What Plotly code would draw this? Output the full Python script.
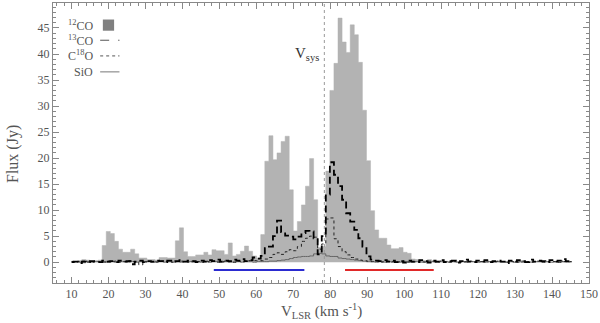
import plotly.graph_objects as go

# channel grid (km/s), 1.1 km/s channels
V_START = 10.05
DV = 1.1

CO12 = [
    0.2, 0.1, 0.3, 0.5, 0.4, 0.2, 0.3, 0.4, 3.2, 5.9,
    5.5, 4.0, 2.5, 1.9, 1.9, 2.5, 1.6, 0.8, 0.8, 0.5,
    0.5, 0.4, 0.9, 0.9, 0.8, 0.8, 4.1, 6.6, 2.0, 1.1,
    1.1, 1.4, 1.4, 1.9, 1.4, 2.4, 2.2, 2.2, 1.5, 3.7,
    1.2, 1.5, 2.1, 3.1, 2.1, 1.2, 0.8, 5.3, 19.4, 24.3,
    19.7, 21.0, 23.2, 24.2, 13.9, 6.0, 7.8, 11.0, 14.6, 19.9,
    12.0, 2.8, 3.0, 17.5, 33.0, 38.2, 46.9, 42.3, 40.3, 45.6,
    43.7, 38.4, 29.2, 19.5, 9.9, 6.2, 4.6, 4.6, 3.3, 2.6,
    2.6, 2.8, 1.9, 1.7, 0.6, 0.5, 0.4, 0.3, 0.5, 0.3,
    0.2, 0.3, 0.2, 0.1, 0.2, 0.1, 0.2, 0.1, 0.0, 0.1,
    0.1, 0.0, 0.1, 0.1, 0.0, 0.1, 0.0, 0.1, 0.0, 0.0,
    0.1, 0.0, 0.0, 0.1, 0.0, 0.0, 0.1, 0.0, 0.0, 0.0,
    0.0, 0.1, 0.0, 0.0,
]

CO13 = [
    0.0, 0.1, -0.2, 0.1, 0.0, 0.2, 0.1, 0.0, 0.3, 0.1,
    0.2, 0.0, 0.3, 0.1, 0.2, -0.4, 0.1, 0.3, 0.0, 0.2,
    0.1, 0.3, 0.2, 0.0, 0.3, 0.1, 0.2, 0.4, 0.1, 0.3,
    0.2, 0.0, 0.3, 0.1, 0.4, 0.2, 0.5, 0.1, 0.3, 0.2,
    0.5, 0.3, 0.6, 0.2, 0.4, 0.9, 0.7, 1.2, 2.7, 3.0,
    5.0, 8.0, 5.8, 5.1, 4.9, 4.4, 4.9, 5.6, 6.0, 5.9,
    4.6, 1.5, 5.0, 13.0, 19.2, 16.8, 14.6, 12.0, 9.4, 7.8,
    6.2, 4.6, 3.0, 1.1, 0.5, 0.3, 0.2, 0.4, 0.1, 0.3,
    0.0, 0.2, -0.1, 0.3, 0.1, 0.0, 0.4, 0.2, -0.1, 0.3,
    0.1, 0.4, 0.0, 0.2, 0.3, -0.1, 0.2, 0.5, 0.1, 0.0,
    0.3, 0.1, 0.4, 0.0, 0.2, 0.3, 0.1, -0.2, 0.3, 0.1,
    0.4, 0.2, 0.0, 0.5, 0.1, 0.3, 0.2, 0.0, 0.4, 0.1,
    0.3, 0.6, 0.2, 0.1,
]

C18O = [
    0.1, 0.0, 0.1, 0.2, 0.0, 0.1, 0.2, 0.1, 0.0, 0.2,
    0.1, 0.2, 0.0, 0.1, 0.3, 0.1, 0.0, -0.5, 0.1, 0.2,
    0.1, 0.0, 0.2, 0.1, 0.2, 0.0, 0.1, 0.2, 0.1, 0.0,
    0.2, 0.1, 0.0, 0.2, 0.1, 0.2, 0.0, 0.1, 0.2, 0.1,
    0.0, 0.2, 0.1, 0.2, 0.3, 0.3, 0.3, 0.3, 0.6, 0.9,
    1.5, 1.8, 1.5, 2.0, 2.4, 2.2, 3.0, 4.0, 4.6, 5.0,
    4.8, 2.5, 3.5, 8.3, 8.5, 4.5, 3.0, 2.0, 1.4, 0.9,
    0.6, 0.4, 0.3, 0.2, 0.1, 0.2, 0.0, 0.1, 0.2, 0.1,
    0.0, 0.1, 0.2, 0.0, 0.1, 0.2, 0.1, 0.0, 0.2, 0.1,
    0.0, 0.2, 0.1, 0.0, 0.1, 0.2, 0.0, 0.1, 0.2, 0.1,
    0.0, 0.1, 0.2, 0.0, 0.1, 0.2, 0.1, 0.0, 0.2, 0.1,
    0.0, 0.2, 0.1, 0.0, 0.1, 0.2, 0.0, 0.1, 0.2, 0.1,
    0.0, 0.1, 0.2, 0.1,
]

SIO = [
    0.0, 0.1, 0.0, -0.1, 0.1, 0.0, 0.1, 0.0, 0.1, 0.0,
    0.1, 0.0, 0.1, 0.1, 0.0, 0.1, 0.0, 0.1, 0.0, 0.1,
    0.0, 0.1, 0.1, 0.0, 0.1, 0.0, 0.1, 0.0, 0.1, 0.1,
    0.0, 0.1, 0.0, 0.1, 0.0, 0.1, 0.1, 0.0, 0.1, 0.0,
    0.0, 0.1, 0.0, 0.1, 0.1, 0.0, 0.1, 0.1, 0.1, 0.2,
    0.2, 0.3, 0.4, 0.5, 0.7, 0.9, 1.0, 1.1, 1.1, 1.2,
    1.6, 1.7, 1.6, 1.2, 1.1, 1.1, 0.8, 0.7, 0.6, 0.5,
    0.4, 0.3, 0.2, 0.1, 0.1, 0.0, 0.1, 0.0, 0.1, 0.0,
    0.1, 0.0, 0.1, 0.1, 0.0, 0.1, 0.0, 0.1, 0.0, 0.1,
    0.0, 0.1, 0.1, 0.0, 0.1, 0.0, 0.1, 0.0, 0.1, 0.1,
    0.0, 0.1, 0.0, 0.1, 0.0, 0.1, 0.1, 0.0, 0.1, 0.0,
    0.1, 0.0, 0.1, 0.0, 0.1, 0.1, 0.0, 0.1, 0.0, 0.1,
    0.0, 0.1, 0.0, 0.1,
]

VSYS = 78.4
BLUE_RANGE = [48.5, 73.0]
RED_RANGE = [84.0, 108.0]
WING_LEVEL = -1.5

velocity = [round(V_START + DV * k, 2) for k in range(len(CO12))]

FONT = "Liberation Serif"
TEXT_COLOR = "#555555"
BAR_COLOR = "#b3b3b3"

fig = go.Figure()

# 12CO as a filled histogram (step outline filled down to zero)
fig.add_trace(
    go.Scatter(
        x=velocity, y=CO12, mode="lines", line_shape="hvh",
        line={"color": BAR_COLOR, "width": 0.5},
        fill="tozeroy", fillcolor=BAR_COLOR, name="12CO",
    )
)
fig.add_trace(
    go.Scatter(
        x=velocity, y=SIO, mode="lines", line_shape="hvh",
        line={"color": "#666666", "width": 1}, name="SiO",
    )
)
fig.add_trace(
    go.Scatter(
        x=velocity, y=C18O, mode="lines", line_shape="hvh",
        line={"color": "#222222", "width": 1, "dash": "dot"}, name="C18O",
    )
)
fig.add_trace(
    go.Scatter(
        x=velocity, y=CO13, mode="lines", line_shape="hvh",
        line={"color": "#000000", "width": 1.8, "dash": "7px,4px"}, name="13CO",
    )
)
fig.add_trace(
    go.Scatter(
        x=BLUE_RANGE, y=[WING_LEVEL, WING_LEVEL], mode="lines",
        line={"color": "#2b2bd0", "width": 2}, name="blue",
    )
)
fig.add_trace(
    go.Scatter(
        x=RED_RANGE, y=[WING_LEVEL, WING_LEVEL], mode="lines",
        line={"color": "#e02828", "width": 2}, name="red",
    )
)

fig.add_vline(x=VSYS, line_dash="dot", line_color="#999999", line_width=1)
fig.add_annotation(
    x=VSYS, y=40, xref="x", yref="y", text="V<sub>sys</sub>",
    showarrow=False, xanchor="right", xshift=-3,
    font={"family": FONT, "size": 15, "color": "#333333"},
)

# axis titles as annotations, placed relative to the plot area
fig.add_annotation(
    x=0.5, y=-0.1, xref="paper", yref="paper", yanchor="middle",
    text="V<sub>LSR</sub> (km s<sup>-1</sup>)", showarrow=False,
    font={"family": FONT, "size": 15, "color": TEXT_COLOR},
)
fig.add_annotation(
    x=-0.075, y=0.46, xref="paper", yref="paper", xanchor="center",
    text="Flux (Jy)", textangle=-90, showarrow=False,
    font={"family": FONT, "size": 16, "color": TEXT_COLOR},
)

# hand-drawn legend (text left, sample right)
legend_rows = [
    ("<sup>12</sup>CO", 0.921, None),
    ("<sup>13</sup>CO", 0.867, {"color": "#555555", "width": 1, "dash": "dash"}),
    ("C<sup>18</sup>O", 0.811, {"color": "#555555", "width": 1, "dash": "dot"}),
    ("SiO", 0.754, {"color": "#777777", "width": 1}),
]
for label, ypos, line in legend_rows:
    fig.add_annotation(
        x=0.079, y=ypos, xref="paper", yref="paper", text=label,
        showarrow=False, xanchor="right", yanchor="middle",
        font={"family": FONT, "size": 12, "color": TEXT_COLOR},
    )
    if line is None:
        fig.add_shape(
            type="rect", xref="paper", yref="paper",
            x0=0.093, x1=0.114, y0=ypos - 0.02, y1=ypos + 0.02,
            fillcolor="#808080", line={"width": 0},
        )
    else:
        fig.add_shape(
            type="line", xref="paper", yref="paper",
            x0=0.088, x1=0.124, y0=ypos, y1=ypos, line=line,
        )

axis_common = dict(
    showline=True,
    linecolor="#888888",
    linewidth=1,
    mirror="ticks",
    ticks="inside",
    ticklen=6,
    tickcolor="#888888",
    showgrid=False,
    zeroline=False,
    automargin=False,
    tickfont={"family": FONT, "size": 12, "color": TEXT_COLOR},
)

fig.update_xaxes(
    range=[5, 150], tick0=10, dtick=10,
    minor={"dtick": 2, "tick0": 0, "ticks": "inside", "ticklen": 3, "tickcolor": "#888888"},
    **axis_common,
)
fig.update_yaxes(
    range=[-4, 49.8], tick0=0, dtick=5,
    minor={"dtick": 1, "tick0": 0, "ticks": "inside", "ticklen": 3, "tickcolor": "#888888"},
    **axis_common,
)

fig.update_layout(
    width=600,
    height=323,
    margin={"l": 53, "r": 11, "t": 3, "b": 40},
    plot_bgcolor="white",
    paper_bgcolor="white",
    showlegend=False,
)

# the page body has a default 8px margin; drop it so the figure sits at the window origin
fig.write_html(
    "out.html",
    config={"displayModeBar": False},
    post_script="document.body.style.margin='0';",
)
